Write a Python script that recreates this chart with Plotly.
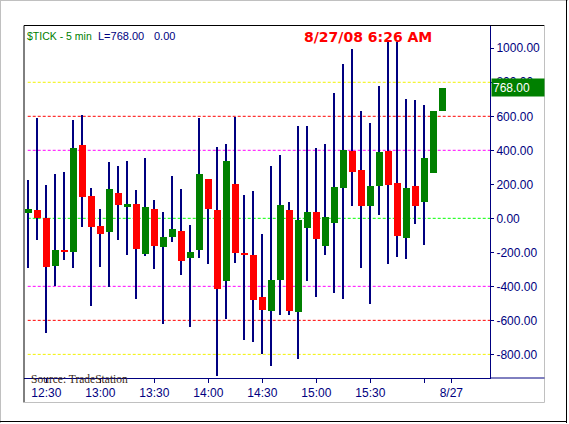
import plotly.graph_objects as go

# ---- data (5-min $TICK bars, 8/26-8/27/2008) ----
opens  = [33, 49, 0, -280, -186, -198, 431, 131, -45, -78, 149, 69, 84, -208, 55, -169,
          -108, -75, -233, -186, 231, 49, -367, 202, -208, -216, -463, -543, -361, 49,
          -549, -55, 37, -163, -27, 178, 396, 284, 75, 190, 396, 208, -114, 190, 96, 269, 631]
closes = [55, 0, -286, -186, -198, 414, 127, -49, -90, 173, 78, 86, -178, 67, -163, -110,
          -63, -249, -198, 261, 55, -414, 337, -202, -214, -478, -537, -363, 78, -545,
          -10, 37, -122, 8, 184, 402, 273, 75, 190, 390, 196, -102, 178, 75, 355, 631, 768]
highs  = [225, 592, 196, 261, 273, 578, 608, 178, 55, 331, 308, 337, 167, 355, 108, 37,
          249, 173, -39, 590, 231, 420, 437, 598, 137, 161, -92, 308, 373, 96,
          543, 543, 414, 437, 737, 908, 996, 631, 561, 778, 1048, 1038, 702, 696, 667, 631, 768]
lows   = [-290, -127, -673, -398, -245, -292, -49, -516, -286, -402, -127, -216, -473, -222,
          -298, -620, -137, -333, -637, -233, -269, -926, -594, -261, -714, -726, -800, -867,
          -569, -569, -826, -367, -461, -216, -439, -476, 75, -292, -504, 22, -267, -225,
          -239, -31, -155, 269, 631]

x_tick_index  = [2, 8, 14, 20, 26, 32, 38, 44, 47]
x_tick_labels = ["12:30", "13:00", "13:30", "14:00", "14:30", "15:00", "15:30", "", "8/27"]
y_ticks = [-800, -600, -400, -200, 0, 200, 400, 600, 800, 1000]

ref_levels = [800, 600, 400, 0, -400, -600, -800]
ref_colors = ["#f2f200", "#ff0000", "#ff00ff", "#00ff00", "#ff00ff", "#ff0000", "#f2f200"]

title_text = "8/27/08 6:26 AM"
symbol_text = "$TICK - 5 min"
net_change = 0.00
source_text = "Source: TradeStation"

NAVY = "#000080"
GREEN = "#008000"
RED = "#ff0000"

n = len(opens)
xs = list(range(n))
base = [min(o, c) for o, c in zip(opens, closes)]
height = [max(abs(c - o), 8) for o, c in zip(opens, closes)]
body_colors = [GREEN if c >= o else RED for o, c in zip(opens, closes)]

fig = go.Figure()
# wicks
fig.add_trace(go.Bar(x=xs, base=lows, y=[h - l for h, l in zip(highs, lows)],
                     width=0.12, marker=dict(color=NAVY, line=dict(width=0)),
                     showlegend=False, hoverinfo="skip"))
# bodies
fig.add_trace(go.Bar(x=xs, base=base, y=height, width=0.78,
                     marker=dict(color=body_colors, line=dict(width=0)),
                     showlegend=False, hoverinfo="skip"))

shapes = []
for lv, col in zip(ref_levels, ref_colors):
    shapes.append(dict(type="line", xref="paper", yref="y", x0=0.008, x1=1, y0=lv, y1=lv,
                       line=dict(color=col, width=1, dash="3px,2px"), layer="below"))

L, R, T, B = 24, 490, 26, 378
W, H = R - L, B - T
def px(x): return (x - L) / W
def py(y): return (B - y) / H

def seg(x0, y0, x1, y1, color):
    shapes.append(dict(type="line", xref="paper", yref="paper",
                       x0=px(x0), y0=py(y0), x1=px(x1), y1=py(y1),
                       line=dict(color=color, width=1)))

# outer window frame
seg(0, 0.5, 568, 0.5, "#c0c0c0")
seg(0.5, 0, 0.5, 423, "#c0c0c0")
seg(566.5, 0, 566.5, 423, "#000000")
seg(0, 421.5, 567, 421.5, "#000000")
# chart box
seg(24, 25.5, 544.5, 25.5, "#000000")
seg(24, 25.5, 24, 402.5, "#000000")
seg(544.5, 25.5, 544.5, 402.5, "#c0c0c0")
seg(24, 402.5, 544.5, 402.5, "#c0c0c0")
# extend x axis line to the box edge
seg(490, 378, 544.5, 378, NAVY)

last = closes[-1]
annotations = [
    dict(text=title_text, xref="paper", yref="paper", x=px(368), y=py(37),
         xanchor="center", yanchor="middle", showarrow=False,
         font=dict(family="DejaVu Sans", size=14, color=RED, weight="bold")),
    dict(text=symbol_text, xref="paper", yref="paper", x=px(25), y=py(36.5),
         xanchor="left", yanchor="middle", showarrow=False,
         font=dict(family="Liberation Sans", size=10.5, color=GREEN)),
    dict(text=f"L={last:.2f}", xref="paper", yref="paper", x=px(96), y=py(36.5),
         xanchor="left", yanchor="middle", showarrow=False,
         font=dict(family="Liberation Sans", size=11, color=NAVY)),
    dict(text=f"{net_change:.2f}", xref="paper", yref="paper", x=px(152), y=py(36.5),
         xanchor="left", yanchor="middle", showarrow=False,
         font=dict(family="Liberation Sans", size=11, color=NAVY)),
    dict(text=source_text, xref="paper", yref="paper", x=px(29), y=py(378.5),
         xanchor="left", yanchor="middle", showarrow=False,
         font=dict(family="Liberation Serif", size=11.5, color="#3a2816")),
    dict(text=f"{last:.2f}", xref="paper", yref="y", x=1, y=last, xshift=1,
         xanchor="left", yanchor="middle", showarrow=False, align="left",
         width=50, height=15, bgcolor=GREEN, borderpad=1,
         font=dict(family="Liberation Sans", size=12, color="#ffffff")),
]

fig.update_layout(
    width=569, height=424,
    margin=dict(l=L, r=569 - R, t=T, b=424 - B),
    paper_bgcolor="#ffffff", plot_bgcolor="#ffffff",
    barmode="overlay", bargap=0,
    shapes=shapes, annotations=annotations,
    xaxis=dict(range=[-0.48, 51.3], tickmode="array", tickvals=x_tick_index,
               ticktext=x_tick_labels, showgrid=False, zeroline=False,
               showline=True, linecolor=NAVY, linewidth=1,
               ticks="outside", ticklen=4, tickcolor=NAVY,
               tickfont=dict(family="Liberation Sans", size=12, color=NAVY)),
    yaxis=dict(side="right", range=[-939, 1131], tickmode="array", tickvals=y_ticks,
               ticktext=[f"{v:.2f}" for v in y_ticks], showgrid=False, zeroline=False,
               showline=True, linecolor=NAVY, linewidth=1,
               ticks="outside", ticklen=3, tickcolor=NAVY,
               tickfont=dict(family="Liberation Sans", size=12, color=NAVY)),
)

fig.write_html("out.html", config={"displayModeBar": False},
               post_script="document.body.style.margin='0px';document.body.style.overflow='hidden';")
